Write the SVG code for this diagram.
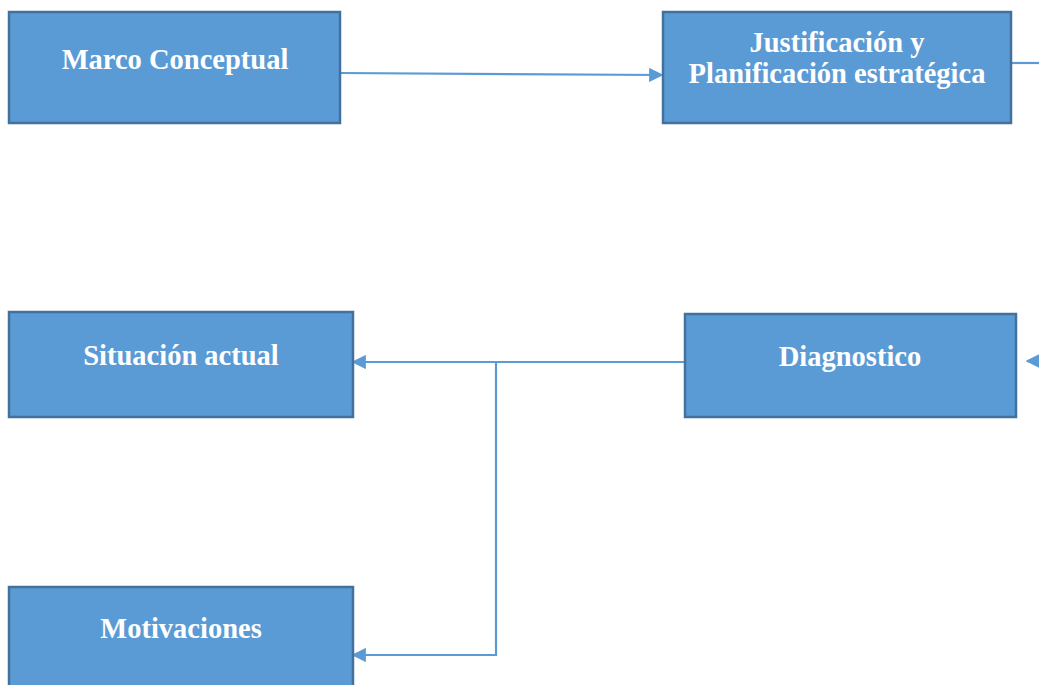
<svg xmlns="http://www.w3.org/2000/svg" width="1039" height="685" viewBox="0 0 1039 685">
<style>
.box{fill:#5B9BD5;stroke:#41719C;stroke-width:2.5}
.lbl{font-family:"Liberation Serif","Times New Roman",serif;font-weight:bold;font-size:28.5px;fill:#FFFFFF;text-anchor:middle}
.con{fill:none;stroke:#5B9BD5;stroke-width:2.2}
</style>
<defs>
<marker id="arr" viewBox="0 0 10 10" refX="9" refY="5" markerWidth="6.5" markerHeight="6.5" markerUnits="strokeWidth" orient="auto">
<path d="M0,0 L10,5 L0,10 Z" fill="#5B9BD5"/>
</marker>
</defs>
<rect width="1039" height="685" fill="#FFFFFF"/>
<g id="connectors">
<path class="con" d="M340,73 L662,75" marker-end="url(#arr)"/>
<path class="con" d="M1011,63 L1039,63"/>
<path class="con" d="M1041,361 L1027,361" marker-end="url(#arr)"/>
<path class="con" d="M685,362 L353,362" marker-end="url(#arr)"/>
<path class="con" d="M496,362 L496,655 L353,655" marker-end="url(#arr)"/>
</g>
<g id="marco">
<rect class="box" x="9" y="12" width="331" height="111"/>
<text class="lbl" x="175" y="69">Marco Conceptual</text>
</g>
<g id="justificacion">
<rect class="box" x="663" y="12" width="348" height="111"/>
<text class="lbl" x="837" y="52">Justificación y</text>
<text class="lbl" x="837" y="83">Planificación estratégica</text>
</g>
<g id="situacion">
<rect class="box" x="9" y="312" width="344" height="105"/>
<text class="lbl" x="181" y="365">Situación actual</text>
</g>
<g id="diagnostico">
<rect class="box" x="685" y="314" width="331" height="103"/>
<text class="lbl" x="850" y="366">Diagnostico</text>
</g>
<g id="motivaciones">
<rect class="box" x="9" y="587" width="344" height="110"/>
<text class="lbl" x="181" y="638">Motivaciones</text>
</g>
</svg>
